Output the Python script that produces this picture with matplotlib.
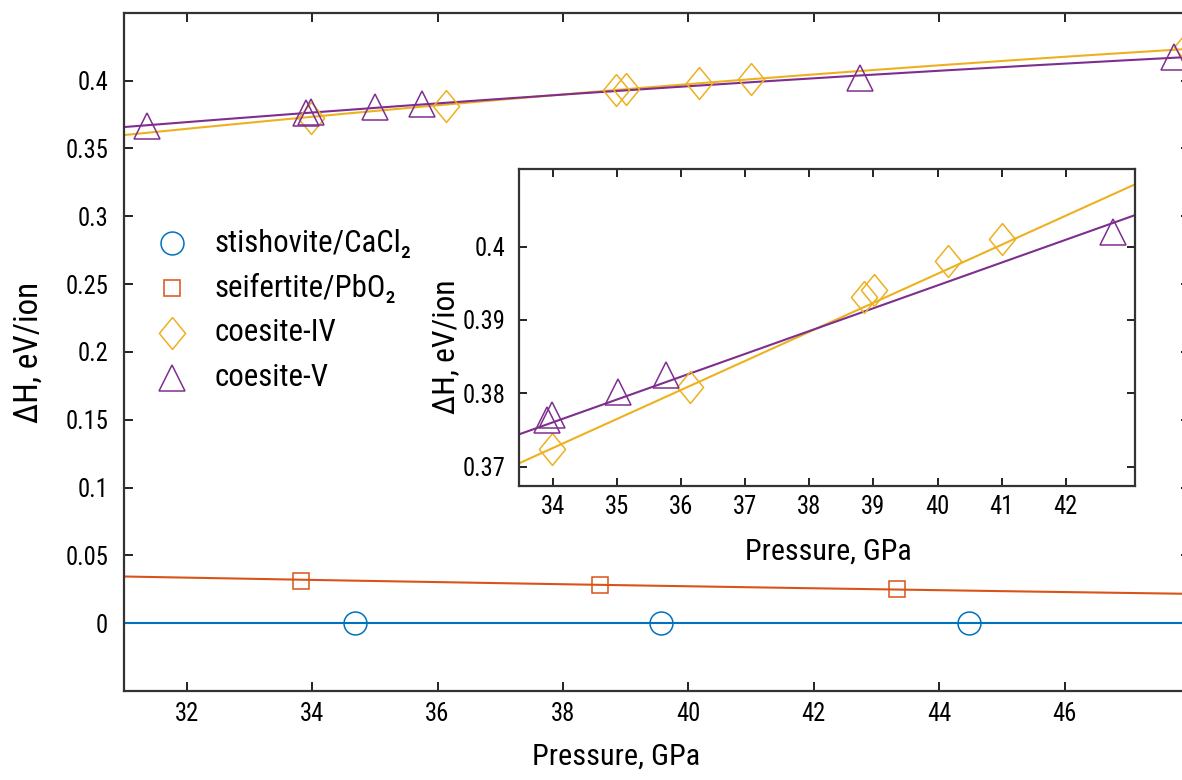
import numpy as np
import matplotlib
matplotlib.use("Agg")
import matplotlib.pyplot as plt
import matplotlib.font_manager as fm

# ---------------- font choice: a narrow sans if one is installed ----------------
def _narrow(f):
    st = f.stretch
    return ('Narrow' in f.name or 'Condensed' in f.name or
            st in ('condensed', 'semi-condensed', 'extra-condensed', 'ultra-condensed') or
            (isinstance(st, (int, float)) and st < 500))

_cands = [f for f in fm.fontManager.ttflist
          if _narrow(f) and f.style == 'normal' and f.weight in (400, 'normal', 'regular', 'book')]
_pref = ['Liberation Sans Narrow', 'Roboto Condensed', 'Open Sans Condensed', 'Noto Sans',
         'Open Sans', 'Roboto', 'Lato', 'Inter']
_cands.sort(key=lambda f: _pref.index(f.name) if f.name in _pref else len(_pref))
if _cands:
    FAMILY = _cands[0].name
    plt.rcParams['font.stretch'] = _cands[0].stretch
else:
    FAMILY = 'Roboto'
plt.rcParams['font.family'] = [FAMILY, 'DejaVu Sans']

# ---------------- data ----------------
labels = ['stishovite/CaCl\u2082', 'seifertite/PbO\u2082', 'coesite-IV', 'coesite-V']
colors = ['#0072BD', '#D95319', '#EDB120', '#7E2F8E']

stish_P = [34.68, 39.56, 44.47]
stish_H = [0.0, 0.0, 0.0]

seif_P = [33.83, 38.59, 43.32]
seif_H = [0.0310, 0.0284, 0.0254]

coesIV_P = [33.99, 36.13, 38.85, 39.01, 40.17, 41.00, 47.95]
coesIV_H = [0.3724, 0.3809, 0.3932, 0.3941, 0.3980, 0.4011, 0.4250]

coesV_P = [31.37, 33.90, 33.98, 35.01, 35.76, 42.74, 47.75]
coesV_H = [0.3665, 0.3764, 0.3770, 0.3802, 0.3825, 0.4020, 0.4171]

# fit lines of the main panel, read at a few pressures
fit_P = [31.0, 42.58, 47.87]
stish_fit = [0.0, 0.0, 0.0]
seif_fit = [0.0344, 0.0253, 0.0217]
coesIV_fit = [0.3598, 0.4065, 0.4230]
coesV_fit = [0.3657, 0.4033, 0.4171]

# fit lines of the inset, read at its two edges
inset_fit_P = [33.47, 43.08]
inset_coesIV_fit = [0.37045, 0.4085]
inset_coesV_fit = [0.3744, 0.4043]

main_xticks = [32, 34, 36, 38, 40, 42, 44, 46]
main_yticks = [0, 0.05, 0.1, 0.15, 0.2, 0.25, 0.3, 0.35, 0.4]
inset_xticks = [34, 35, 36, 37, 38, 39, 40, 41, 42]
inset_yticks = [0.37, 0.38, 0.39, 0.4]

# ---------------- figure ----------------
W, H = 1182, 780
fig = plt.figure(figsize=(W / 100, H / 100), dpi=100)
ax = fig.add_axes([124 / W, 1 - 691 / H, 1066 / W, 678.3 / H])

diamond = [(0, 1), (0.82, 0), (0, -1), (-0.82, 0), (0, 1)]
mk = dict(mfc='none', mew=1.1, ls='none')
styles = [dict(marker='o', ms=16.5), dict(marker='s', ms=11),
          dict(marker=diamond, ms=23), dict(marker='^', ms=19)]

def smooth(P, Hv, lo, hi):
    c = np.polyfit(P, Hv, 2)
    xx = np.linspace(lo, hi, 200)
    return xx, np.polyval(c, xx)

for fitH, col in zip([stish_fit, seif_fit, coesIV_fit, coesV_fit], colors):
    xx, yy = smooth(fit_P, fitH, 31, 48)
    ax.plot(xx, yy, color=col, lw=1.5, zorder=2)

for (P, Hv), st, col in zip([(stish_P, stish_H), (seif_P, seif_H),
                             (coesIV_P, coesIV_H), (coesV_P, coesV_H)], styles, colors):
    ax.plot(P, Hv, mec=col, **st, **mk, zorder=3)

ax.set_xlim(31, 48)
ax.set_ylim(-0.05, 0.45)
ax.set_xticks(main_xticks)
ax.set_yticks(main_yticks)
ax.set_yticklabels(['%g' % v for v in main_yticks])

# legend (markers only, as in the reference)
leg_y = [243, 288, 333, 378]
for lab, st, col, ypx in zip(labels, styles, colors, leg_y):
    yax = (691 - ypx) / 678.3
    ax.plot([(172 - 124) / 1066], [yax], transform=ax.transAxes, mec=col, **st, **mk,
            clip_on=False)
    ax.text((215 - 124) / 1066, yax, lab, transform=ax.transAxes, va='center',
            ha='left', fontsize=20, color='black')

ax.set_xlabel('Pressure, GPa', fontsize=20)
ax.set_ylabel('\u0394H, eV/ion', fontsize=20)

# ---------------- inset ----------------
ins = fig.add_axes([519 / W, 1 - 485.7 / H, 616 / W, 316.7 / H])
ins.plot(inset_fit_P, inset_coesIV_fit, color=colors[2], lw=1.5, zorder=2)
ins.plot(inset_fit_P, inset_coesV_fit, color=colors[3], lw=1.5, zorder=2)
ins.plot(coesIV_P, coesIV_H, mec=colors[2], **styles[2], **mk, zorder=3)
ins.plot(coesV_P, coesV_H, mec=colors[3], **styles[3], **mk, zorder=3)
ins.set_xlim(33.47, 43.08)
ins.set_ylim(0.3674, 0.41059)
ins.set_xticks(inset_xticks)
ins.set_yticks(inset_yticks)
ins.set_yticklabels(['%g' % v for v in inset_yticks])
ins.set_xlabel('Pressure, GPa', fontsize=20)
ins.set_ylabel('\u0394H, eV/ion', fontsize=20)

for a, tl in [(ax, 6.5), (ins, 6)]:
    a.tick_params(direction='in', length=tl, width=1.4, top=True, right=True,
                  labelsize=16, color='#222222')
    for s in a.spines.values():
        s.set_linewidth(1.6)
        s.set_color('#333333')
ax.tick_params(axis='y', pad=11.5)
ax.tick_params(axis='x', pad=8)
ins.tick_params(axis='y', pad=10)
ins.tick_params(axis='x', pad=7)

# ---------------- size texts from the widths seen in the reference ----------------
fig.canvas.draw()
r = fig.canvas.get_renderer()

def ext(t):
    bb = t.get_window_extent(r)
    return max(bb.width, bb.height)

def fit_text(t, target):
    t.set_fontsize(t.get_fontsize() * target / ext(t))

# the reference face is narrower than ours; trade a little width for height
TICK_F, LEG_F, LAB_F = 1.2, 1.12, 1.1

tl = ax.get_yticklabels()[1]           # "0.05", about 36 px wide in the reference
size = tl.get_fontsize() * 36 * TICK_F / ext(tl)
ax.tick_params(labelsize=size)
ins.tick_params(labelsize=size)

for t in ax.texts:
    if t.get_text() == labels[0]:
        scale = 176 * LEG_F / ext(t)
for t in ax.texts:
    t.set_fontsize(t.get_fontsize() * scale)

fit_text(ax.xaxis.label, 152 * LAB_F)
fit_text(ins.xaxis.label, 151 * LAB_F)
fit_text(ax.yaxis.label, 128 * LAB_F)
fit_text(ins.yaxis.label, 122 * LAB_F)

# place axis labels at the reference centres (pixels from top-left)
def place(axis, a, cx, cy):
    apos = a.get_position()
    if axis is a.xaxis:
        axis.set_label_coords(0.5, 0)
    else:
        axis.set_label_coords(0, 0.5)
    fig.canvas.draw()
    lab = axis.label
    bb = lab.get_window_extent(r)
    x0, y0 = lab.get_position()
    dx = cx - (bb.x0 + bb.x1) / 2
    dy = (H - cy) - (bb.y0 + bb.y1) / 2
    axis.set_label_coords(x0 + dx / (apos.width * W), y0 + dy / (apos.height * H))

place(ax.xaxis, ax, 616, 757)
place(ax.yaxis, ax, 29, 352)
place(ins.xaxis, ins, 828, 552)
place(ins.yaxis, ins, 446, 347)

fig.savefig('out.png', dpi=100)
